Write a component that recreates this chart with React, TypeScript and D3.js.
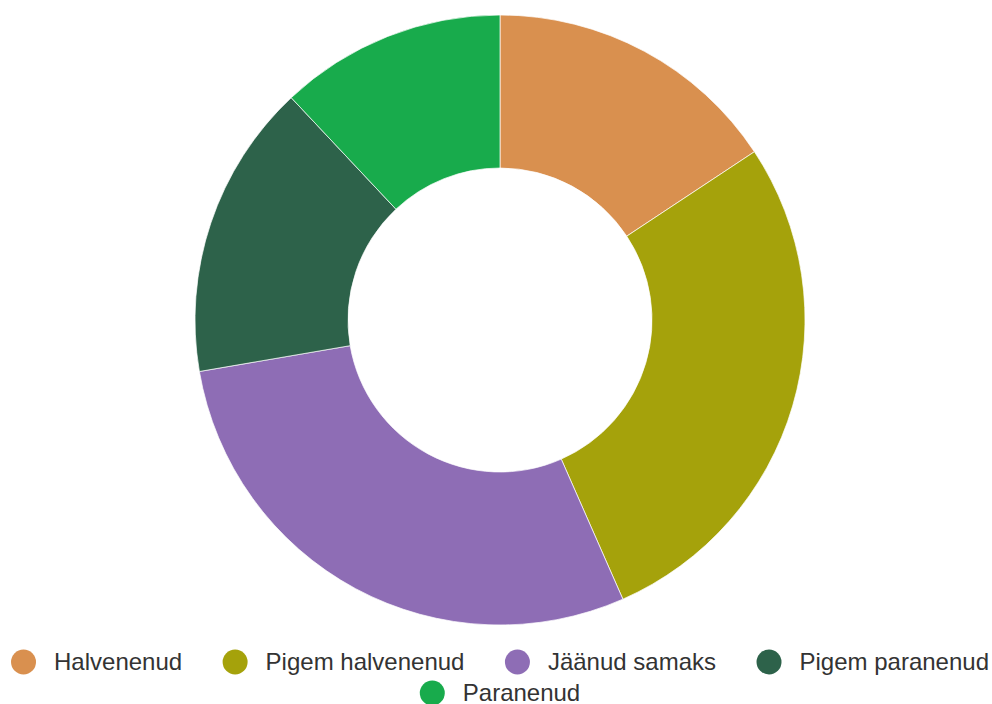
import React, { useMemo } from "react";
import * as d3 from "d3";

const categories = ["Halvenenud", "Pigem halvenenud", "Jäänud samaks", "Pigem paranenud", "Paranenud"];
const values = [15.7, 27.7, 28.9, 15.7, 12.0];
const colors = ["#d9904f", "#a5a20b", "#8e6db5", "#2d624a", "#18ab4c"];

const W = 992;
const H = 704;
const cx = 500;
const cy = 320;
const outerR = 305;
const innerR = 152;
const FONT = "24px 'Liberation Sans', Arial, sans-serif";

function measure(text: string): number {
  const c = document.createElement("canvas").getContext("2d");
  if (!c) return text.length * 12;
  c.font = FONT;
  return c.measureText(text).width;
}

export default function App() {
  const pie = d3.pie<number>().sort(null).value((d) => d);
  const arcs = pie(values);
  const arcGen = d3.arc<d3.PieArcDatum<number>>().innerRadius(innerR).outerRadius(outerR);

  const legend = useMemo(() => {
    const r = 12.5;
    const textGap = 18;
    const itemGap = 40.5;
    const maxW = 985;
    const items = categories.map((c, i) => {
      const tw = measure(c);
      return { c, i, w: 2 * r + textGap + tw, tw };
    });
    const rows: { items: typeof items; width: number }[] = [];
    let cur: typeof items = [];
    let curW = 0;
    items.forEach((it) => {
      const add = cur.length ? itemGap + it.w : it.w;
      if (cur.length && curW + add > maxW) {
        rows.push({ items: cur, width: curW });
        cur = [it];
        curW = it.w;
      } else {
        cur.push(it);
        curW += add;
      }
    });
    if (cur.length) rows.push({ items: cur, width: curW });
    const out: { c: string; i: number; x: number; y: number }[] = [];
    rows.forEach((row, ri) => {
      let x = 500 - row.width / 2;
      const y = 662 + ri * 31;
      row.items.forEach((it) => {
        out.push({ c: it.c, i: it.i, x, y });
        x += it.w + itemGap;
      });
    });
    return { out, r, textGap };
  }, []);

  return (
    <svg width={W} height={H} style={{ position: "absolute", left: 0, top: 0, background: "#fff" }}>
      <g transform={`translate(${cx},${cy})`}>
        {arcs.map((a, i) => (
          <path key={i} d={arcGen(a) || ""} fill={colors[i]} stroke="#fff" strokeWidth={0.7} />
        ))}
      </g>
      {legend.out.map((l) => (
        <g key={l.i}>
          <circle cx={l.x + legend.r} cy={l.y} r={legend.r} fill={colors[l.i]} />
          <text
            x={l.x + 2 * legend.r + legend.textGap}
            y={l.y}
            dy="0.35em"
            fill="#333"
            style={{ font: FONT }}
          >
            {l.c}
          </text>
        </g>
      ))}
    </svg>
  );
}
